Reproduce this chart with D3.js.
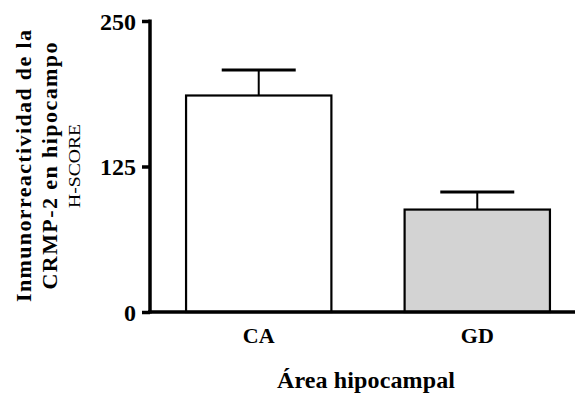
<!DOCTYPE html>
<html>
<head>
<meta charset="utf-8">
<script src="https://cdn.jsdelivr.net/npm/d3@7"></script>
<style>
  html, body { margin: 0; padding: 0; background: #fff; }
  svg { display: block; }
  svg text { font-family: "Liberation Serif", "DejaVu Serif", serif; fill: #000; }
</style>
</head>
<body>
<svg id="chart" width="575" height="397"></svg>
<script>
// Hippocampal CRMP-2 immunoreactivity (H-SCORE), mean ± SEM
const categories = ["CA", "GD"];
const means = [186, 88];
const sems = [22, 15];
const fills = ["#ffffff", "#d3d3d3"];
const yTicks = [0, 125, 250];

const svg = d3.select("#chart");
const x0 = 150, yTop = 21, yBottom = 312;

const y = d3.scaleLinear().domain([0, 250]).range([yBottom, yTop]);
const x = d3.scaleBand().domain(categories)
  .range([150, 586]).paddingInner(0.335).paddingOuter(0.165);

const data = categories.map((c, i) => ({ c, m: means[i], s: sems[i], f: fills[i] }));

// error bars (upper only)
const err = svg.append("g").attr("stroke", "#000");
err.selectAll("line.stem").data(data).join("line")
  .attr("x1", d => x(d.c) + x.bandwidth() / 2)
  .attr("x2", d => x(d.c) + x.bandwidth() / 2)
  .attr("y1", d => y(d.m)).attr("y2", d => y(d.m + d.s))
  .attr("stroke-width", 2);
err.selectAll("line.cap").data(data).join("line")
  .attr("x1", d => x(d.c) + x.bandwidth() / 2 - 37)
  .attr("x2", d => x(d.c) + x.bandwidth() / 2 + 37)
  .attr("y1", d => y(d.m + d.s)).attr("y2", d => y(d.m + d.s))
  .attr("stroke-width", 3);

// bars
svg.append("g").selectAll("rect").data(data).join("rect")
  .attr("x", d => x(d.c)).attr("width", x.bandwidth())
  .attr("y", d => y(d.m)).attr("height", d => y(0) - y(d.m))
  .attr("fill", d => d.f).attr("stroke", "#000").attr("stroke-width", 2.2);

// y axis
const yAxis = svg.append("g").attr("transform", `translate(${x0},0)`)
  .call(d3.axisLeft(y).tickValues(yTicks).tickSize(8).tickPadding(6).tickFormat(d3.format("d")));
yAxis.select(".domain").remove();
yAxis.append("line").attr("x1", 0).attr("x2", 0).attr("y1", yTop - 1.5).attr("y2", yBottom + 1.5)
  .attr("stroke", "#000").attr("stroke-width", 3.5);
yAxis.selectAll(".tick line").attr("stroke", "#000").attr("stroke-width", 3.5);
yAxis.selectAll(".tick text").attr("font-size", 24).attr("font-weight", "bold")
  .attr("font-family", null).attr("fill", null).attr("dy", "0.34em");
yAxis.attr("font-family", null).attr("font-size", null);

// x axis baseline
svg.append("line").attr("x1", x0 - 2).attr("x2", 575)
  .attr("y1", yBottom).attr("y2", yBottom)
  .attr("stroke", "#000").attr("stroke-width", 3.5);

// category labels
svg.append("g").selectAll("text").data(categories).join("text")
  .attr("x", d => x(d) + x.bandwidth() / 2).attr("y", 343)
  .attr("text-anchor", "middle").attr("font-size", 22).attr("font-weight", "bold")
  .text(d => d);

// x title
svg.append("text").attr("x", 366).attr("y", 388).attr("text-anchor", "middle")
  .attr("font-size", 24).attr("font-weight", "bold")
  .attr("textLength", 178).attr("lengthAdjust", "spacing")
  .text("Área hipocampal");

// y title (three lines)
const yt = svg.append("g").attr("transform", "translate(0,166) rotate(-90)");
yt.append("text").attr("x", 0).attr("y", 31).attr("text-anchor", "middle")
  .attr("font-size", 22).attr("font-weight", "bold")
  .attr("textLength", 272).attr("lengthAdjust", "spacing")
  .text("Inmunorreactividad de la");
yt.append("text").attr("x", 0).attr("y", 57).attr("text-anchor", "middle")
  .attr("font-size", 22).attr("font-weight", "bold")
  .attr("textLength", 247).attr("lengthAdjust", "spacing")
  .text("CRMP-2 en hipocampo");
yt.append("text").attr("x", 0).attr("y", 80).attr("text-anchor", "middle")
  .attr("font-size", 17).attr("textLength", 84).attr("lengthAdjust", "spacingAndGlyphs")
  .text("H-SCORE");
</script>
</body>
</html>
